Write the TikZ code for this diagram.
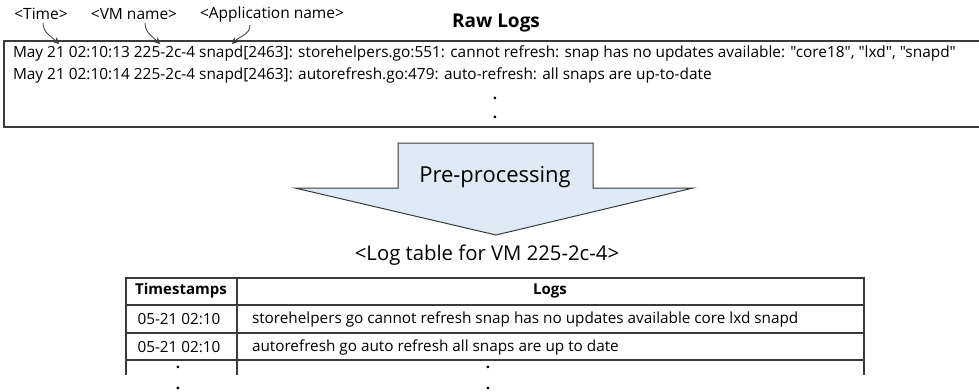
\documentclass[tikz,border=0pt]{standalone}
\usepackage{fontspec}
\setmainfont{Open Sans}
% same face without TeX ligatures, so that " stays a straight quote
\newfontfamily\plainface{Open Sans}
\usetikzlibrary{arrows.meta}
\definecolor{arrowfill}{HTML}{DEEBF7}
\definecolor{edge}{HTML}{3A3A3A}
\tikzset{
  every node/.style={inner sep=0pt, outer sep=0pt, text=black},
  tag/.style={font=\fontsize{15.5}{18}\selectfont},
  logtxt/.style={font=\plainface\fontsize{15.4}{18}\selectfont, anchor=west},
  title/.style={font=\bfseries\fontsize{19}{21}\selectfont},
  celltxt/.style={font=\fontsize{15.3}{18}\selectfont},
  headtxt/.style={font=\bfseries\fontsize{15}{18}\selectfont},
  dotmark/.style={font=\bfseries\fontsize{15.3}{18}\selectfont, text height=2pt, text depth=0pt},
  pointer/.style={draw=edge, line width=0.8pt, -{Stealth[length=6.5pt,width=6.5pt]}},
  frame/.style={draw=edge, line width=1.3pt},
  grid/.style={draw=edge, line width=1.1pt},
  bigarrow/.style={draw=edge, line width=1pt, fill=arrowfill, line join=miter},
}
\begin{document}
\begin{tikzpicture}[x=1pt, y=-1pt]
\useasboundingbox (0,0) rectangle (979,391);

% ---- raw log box (runs off to the right) ----
\draw[frame] (995,41) -- (4,41) -- (4,127) -- (995,127);
\node[title] (raw) at (496,23) {Raw Logs};

\node[logtxt] (l1) at (13,53) {May 21 02:10:13 225-2c-4 snapd[2463]: storehelpers.go:551: cannot refresh: snap has no updates available: "core18", "lxd", "snapd"};
\node[logtxt] (l2) at (13,75) {May 21 02:10:14 225-2c-4 snapd[2463]: autorefresh.go:479: auto-refresh: all snaps are up-to-date};
\node[dotmark] (d1) at (495,98) {.};
\node[dotmark] (d2) at (495,117) {.};

% ---- field labels with pointers ----
\node[tag] (time) at (41,14) {<Time>};
\node[tag] (vm) at (134,14) {<VM name>};
\node[tag] (app) at (272,14) {<Application name>};
\coordinate (tTip) at (59,44);
\coordinate (vTip) at (160,44);
\coordinate (aTip) at (232,44);
\draw[pointer] ([xshift=2pt,yshift=-3pt]time.south) .. controls +(0,10) and +(-8,-8) .. (tTip);
\draw[pointer] ([xshift=11pt,yshift=-3pt]vm.south) .. controls +(0,10) and +(-8,-8) .. (vTip);
\draw[pointer] ([xshift=-22pt,yshift=-3pt]app.south) .. controls +(0,10) and +(8,-8) .. (aTip);

% ---- pre-processing block arrow ----
\draw[bigarrow] (398,143) -- (593,143) -- (593,188) -- (693,188) -- (496,235)
  -- (295,188) -- (398,188) -- cycle;
\node[font=\fontsize{22}{24}\selectfont] (pre) at (495,177) {Pre-processing};
\node[font=\fontsize{20.3}{22}\selectfont] (cap) at (487,255) {<Log table for VM 225-2c-4>};

% ---- log table ----
\draw[grid] (126,375) -- (126,278) -- (864,278) -- (864,375);
\draw[grid] (237,278) -- (237,375);
\draw[grid] (126,305) -- (864,305);
\draw[grid] (126,333) -- (864,333);
\draw[grid] (126,360) -- (864,360);

\node[headtxt] (hts) at (181,291) {Timestamps};
\node[headtxt] (hlog) at (550,291) {Logs};
\node[celltxt] (t1) at (179,319) {05-21 02:10};
\node[celltxt] (t2) at (179,347) {05-21 02:10};
\node[celltxt, anchor=west] (g1) at (252,319) {storehelpers go cannot refresh snap has no updates available core lxd snapd};
\node[celltxt, anchor=west] (g2) at (252,347) {autorefresh go auto refresh all snaps are up to date};
\node[dotmark] (td1) at (178,367) {.};
\node[dotmark] (td2) at (178,388) {.};
\node[dotmark] (gd1) at (488,367) {.};
\node[dotmark] (gd2) at (488,388) {.};
\end{tikzpicture}
\end{document}
